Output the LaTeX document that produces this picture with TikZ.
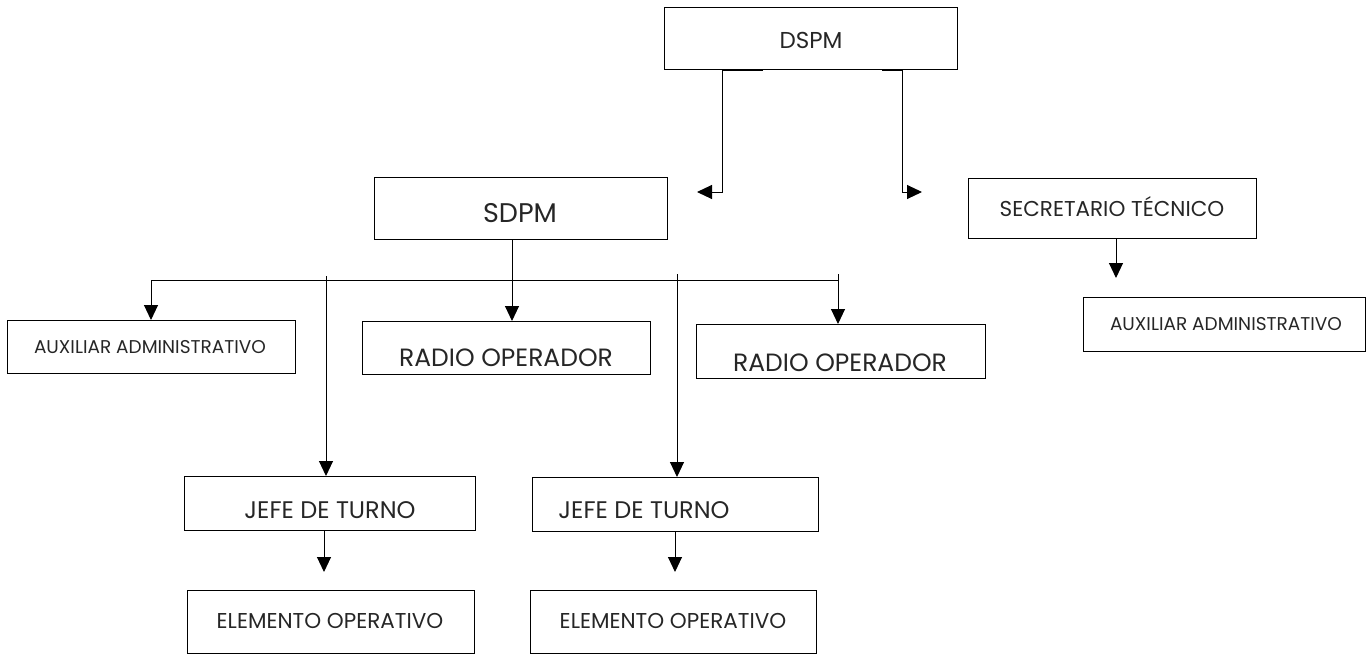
\documentclass[tikz,border=0pt]{standalone}
\usepackage{fontspec}
\setmainfont{Poppins}
\usetikzlibrary{arrows.meta}
\newcommand\fsz[1]{\fontsize{#1}{#1}\selectfont}
\begin{document}
\begin{tikzpicture}[x=1pt,y=-1pt,
  box/.style={draw=black, line width=1pt, inner sep=0pt, anchor=north west},
  lbl/.style={anchor=base, inner sep=0pt, text=black!85},
  conn/.style={draw=black, line width=1pt},
  arr/.style={conn, -{Triangle[length=15pt,width=14pt]}}]
\useasboundingbox (0,0) rectangle (1366,654);
% boxes
\node[box, minimum width=293pt, minimum height=62pt] (dspm) at (664,7) {};
\node[box, minimum width=293pt, minimum height=62pt] (sdpm) at (374,177) {};
\node[box, minimum width=288pt, minimum height=60pt] (sec) at (968,178) {};
\node[box, minimum width=282pt, minimum height=54pt] (aux2) at (1083,297) {};
\node[box, minimum width=288pt, minimum height=53pt] (aux1) at (7,320) {};
\node[box, minimum width=288pt, minimum height=53pt] (radio1) at (362,321) {};
\node[box, minimum width=289pt, minimum height=54pt] (radio2) at (696,324) {};
\node[box, minimum width=291pt, minimum height=54pt] (jefe1) at (184,476) {};
\node[box, minimum width=286pt, minimum height=54pt] (jefe2) at (532,477) {};
\node[box, minimum width=287pt, minimum height=63pt] (elem1) at (187,590) {};
\node[box, minimum width=286pt, minimum height=63pt] (elem2) at (530,590) {};
% labels
\node[lbl, font=\fsz{23}] (dspmt) at (811,48) {DSPM};
\node[lbl, font=\fsz{27}] (sdpmt) at (520,222) {SDPM};
\node[lbl, font=\fsz{21.5}] (sect) at (1112,216) {SECRETARIO TÉCNICO};
\node[lbl, font=\fsz{18.5}] (aux2t) at (1226,330) {AUXILIAR ADMINISTRATIVO};
\node[lbl, font=\fsz{18.5}] (aux1t) at (150,353) {AUXILIAR ADMINISTRATIVO};
\node[lbl, font=\fsz{25}] (radio1t) at (506,366) {RADIO OPERADOR};
\node[lbl, font=\fsz{25}] (radio2t) at (840,371) {RADIO OPERADOR};
\node[lbl, font=\fsz{24}] (jefe1t) at (330,518) {JEFE DE TURNO};
\node[lbl, font=\fsz{24}] (jefe2t) at (644,518) {JEFE DE TURNO};
\node[lbl, font=\fsz{21.5}] (elem1t) at (330,628) {ELEMENTO OPERATIVO};
\node[lbl, font=\fsz{21.5}] (elem2t) at (673,628) {ELEMENTO OPERATIVO};
% free ends
\coordinate (dl) at (697,192);
\coordinate (dr) at (922,192);
\coordinate (busL) at (151,280);
\coordinate (busR) at (838,280);
\coordinate (t1) at (326,276);
\coordinate (t2) at (677,274);
\coordinate (t3) at (838,274);
\coordinate (sa) at (1116,278);
\coordinate (ja) at (324,572);
\coordinate (jb) at (675,572);
% connectors
\draw[arr] ([xshift=99pt,yshift=-0.6pt]dspm.south west) -- ([xshift=58pt,yshift=-0.6pt]dspm.south west) |- (dl);
\draw[arr] ([xshift=218pt,yshift=-0.6pt]dspm.south west) -- ([xshift=238pt,yshift=-0.6pt]dspm.south west) |- (dr);
\draw[arr] ([xshift=138pt]sdpm.south west) -- ([xshift=150pt]radio1.north west);
\draw[conn] (busL) -- (busR);
\draw[arr] (busL) -- (busL |- aux1.north);
\draw[arr] (t1) -- (t1 |- jefe1.north);
\draw[arr] (t2) -- (t2 |- jefe2.north);
\draw[arr] (t3) -- (t3 |- radio2.north);
\draw[arr] (sa |- sec.south) -- (sa);
\draw[arr] (ja |- jefe1.south) -- (ja);
\draw[arr] (jb |- jefe2.south) -- (jb);
\end{tikzpicture}
\end{document}
